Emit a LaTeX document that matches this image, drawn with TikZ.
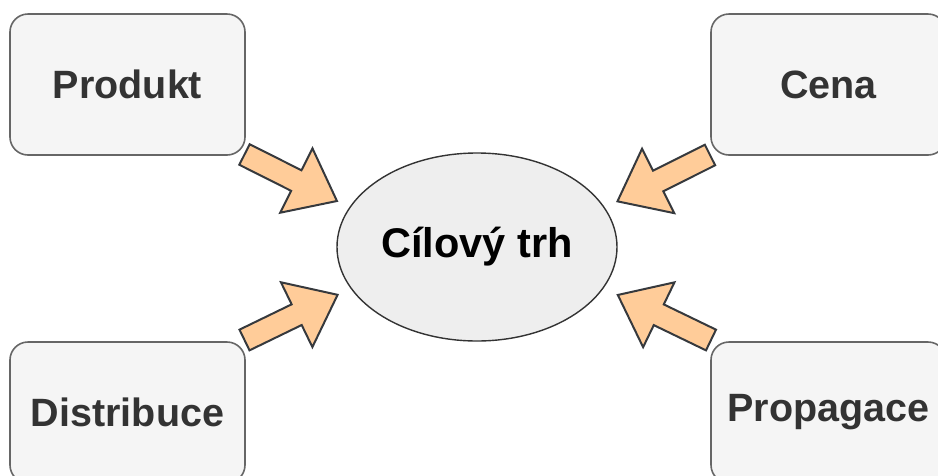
\documentclass[tikz,border=0pt]{standalone}
\usepackage{fontspec}
\setmainfont{Liberation Sans}
\usetikzlibrary{shapes.geometric}
\definecolor{boxfill}{HTML}{F5F5F5}
\definecolor{boxline}{HTML}{666666}
\definecolor{ellfill}{HTML}{EEEEEE}
\definecolor{ellline}{HTML}{333333}
\definecolor{arrfill}{HTML}{FFCC99}
\definecolor{arrline}{HTML}{36393D}
\definecolor{txt}{HTML}{333333}
\tikzset{
  mixbox/.style={draw=boxline, fill=boxfill, line width=1.6pt, rounded corners=18pt,
    minimum width=235pt, minimum height=141pt, inner sep=0pt, text=txt,
    font=\fontsize{39.5}{44}\selectfont\bfseries},
  target/.style={ellipse, draw=ellline, fill=ellfill, line width=1.4pt,
    minimum width=280pt, minimum height=188pt, inner sep=0pt, text=black,
    font=\fontsize{41.5}{46}\selectfont\bfseries},
  blockarrow/.style={draw=arrline, fill=arrfill, line width=2pt, line join=miter}
}
\newcommand{\blockarr}[2]{%
  \begin{scope}[shift={(#1)}, rotate=#2]
    \filldraw[blockarrow] (0,-11.5) -- (58,-11.5) -- (58,-36) -- (103.5,0)
      -- (58,36) -- (58,11.5) -- (0,11.5) -- cycle;
  \end{scope}}
\begin{document}
\begin{tikzpicture}[x=1pt,y=-1pt]
\useasboundingbox (0,0) rectangle (938,475);
\clip (0,0) rectangle (938,475);
\node[mixbox] (prod) at (127.5,84.5) {Produkt};
\node[mixbox] (cena) at (828.5,84.5) {Cena};
\node[mixbox] (dist) at (127.5,412.5) {Distribuce};
\node[mixbox] (prop) at (828.5,412.5) {Propagace};
\node[target] (trh) at (477,247) {Cílový trh};
\coordinate (t1) at (244.5,154.5);
\coordinate (t2) at (710,155);
\coordinate (t3) at (244.5,340);
\coordinate (t4) at (711,340);
\blockarr{t1}{-26.7}
\blockarr{t2}{206.6}
\blockarr{t3}{25.9}
\blockarr{t4}{154.2}
\end{tikzpicture}
\end{document}
